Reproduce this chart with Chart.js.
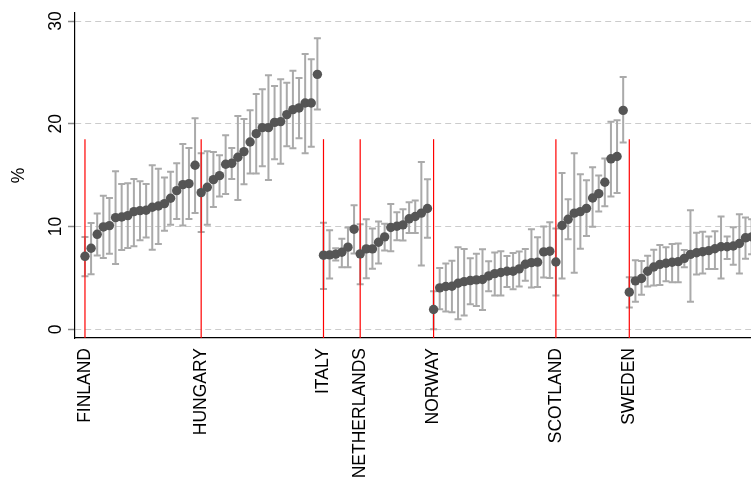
<!DOCTYPE html>
<html>
<head>
<meta charset="utf-8">
<script src="https://cdn.jsdelivr.net/npm/chart.js@4.4.1/dist/chart.umd.min.js"></script>
<style>
  html, body { margin: 0; padding: 0; background: #fff; }
  #wrap { width: 751px; height: 481px; position: relative; }
</style>
</head>
<body>
<div id="wrap"><canvas id="chart"></canvas></div>
<script>
// groups, in plotting order
const countries = ['FINLAND', 'HUNGARY', 'ITALY', 'NETHERLANDS', 'NORWAY', 'SCOTLAND', 'SWEDEN'];
const groupSizes = [19, 20, 6, 12, 20, 12, 21];

// point estimates (%)
const estimates = [
  // Finland
  7.10, 7.88, 9.24, 9.96, 10.09, 10.87, 10.93, 11.06, 11.45, 11.55, 11.58, 11.87, 12.0, 12.23, 12.75, 13.49, 14.08, 14.17, 15.96,
  // Hungary
  13.30, 13.82, 14.56, 14.95, 16.06, 16.15, 16.74, 17.29, 18.23, 19.04, 19.62, 19.62, 20.14, 20.21, 20.89, 21.38, 21.54, 22.02, 22.02, 24.81,
  // Italy
  7.21, 7.24, 7.31, 7.5, 7.99, 9.74,
  // Netherlands
  7.34, 7.82, 7.82, 8.47, 8.99, 9.9, 10.03, 10.16, 10.75, 10.97, 11.3, 11.75,
  // Norway
  1.92, 4.03, 4.16, 4.19, 4.48, 4.64, 4.74, 4.81, 4.84, 5.19, 5.42, 5.52, 5.65, 5.65, 5.88, 6.33, 6.49, 6.53, 7.53, 7.6,
  // Scotland
  6.55, 10.1, 10.7, 11.3, 11.45, 11.77, 12.78, 13.2, 14.31, 16.59, 16.81, 21.3,
  // Sweden
  3.61, 4.71, 4.94, 5.65, 6.06, 6.32, 6.42, 6.52, 6.58, 6.9, 7.29, 7.45, 7.55, 7.65, 7.84, 8.03, 8.03, 8.1, 8.35, 8.9, 9.0
];

// upper and lower ends of the intervals
const upper = [
  8.98, 10.35, 11.26, 13.0, 12.78, 15.37, 14.14, 14.21, 14.63, 14.4, 14.14, 15.96, 15.63, 14.76, 15.34, 16.15, 18.03, 17.65, 20.53,
  17.13, 17.32, 17.26, 16.93, 18.88, 17.65, 20.76, 20.47, 21.31, 22.9, 23.35, 24.72, 23.68, 24.33, 24.0, 25.17, 24.46, 26.79, 26.27, 28.32,
  10.36, 9.64, 7.89, 8.8, 9.9, 12.08,
  10.23, 10.71, 9.81, 10.49, 10.26, 12.18, 11.4, 11.69, 12.37, 12.53, 16.27, 14.61,
  3.7, 5.97, 6.4, 6.66, 7.99, 7.82, 6.92, 7.34, 7.79, 6.62, 7.47, 7.6, 7.14, 7.43, 7.56, 7.82, 9.74, 8.96, 10.0, 10.42,
  9.8, 15.2, 12.65, 17.12, 15.09, 14.5, 15.77, 14.96, 16.62, 20.2, 20.33, 24.55,
  5.06, 6.71, 6.65, 7.16, 7.74, 8.19, 7.97, 8.29, 8.35, 7.71, 11.58, 9.39, 9.48, 9.03, 9.55, 10.97, 9.03, 9.94, 11.19, 10.87, 10.7
];
const lower = [
  5.16, 5.35, 7.17, 6.94, 7.36, 6.36, 7.72, 7.91, 8.08, 8.66, 8.92, 7.75, 8.3, 9.6, 10.18, 10.74, 10.09, 10.74, 11.32,
  9.47, 10.18, 11.9, 12.91, 13.17, 14.63, 12.59, 14.11, 15.15, 15.15, 15.86, 14.53, 16.54, 16.12, 17.81, 17.61, 18.59, 17.13, 17.77, 21.38,
  3.93, 4.94, 6.69, 6.04, 6.04, 7.37,
  4.38, 4.97, 5.88, 6.4, 7.66, 7.6, 8.67, 8.64, 9.38, 9.38, 6.2, 8.9,
  0.0, 1.95, 1.72, 1.66, 0.97, 1.33, 2.44, 2.27, 1.88, 3.7, 3.28, 3.28, 4.12, 3.9, 4.16, 4.71, 4.06, 4.12, 5.03, 5.0,
  3.28, 4.95, 8.76, 5.5, 7.84, 9.07, 9.98, 11.45, 11.97, 12.91, 13.27, 18.18,
  2.13, 2.68, 3.35, 4.16, 4.26, 4.32, 4.68, 4.58, 4.58, 6.03, 2.68, 5.32, 5.42, 5.87, 5.87, 4.94, 6.84, 6.29, 5.42, 6.87, 7.3
];

const yTicks = [0, 10, 20, 30];
const lineTop = 18.5;

const FONT = '"Liberation Sans", Arial, Helvetica, sans-serif';

// index where each country starts
let starts = [];
let pos = 0;
groupSizes.forEach(n => { starts.push(pos); pos += n; });

const points = estimates.map((v, i) => ({ x: i, y: v }));

const yMin = -0.85, yMax = 30.78;

const redLines = starts.map(s => ({
    type: 'line',
    data: [{ x: s, y: yMin }, { x: s, y: lineTop }],
    borderColor: '#ff0000',
    borderWidth: 1.2,
    pointRadius: 0,
    order: 1
}));

// whiskers with caps, drawn under the markers
const errorBars = {
    id: 'errorBars',
    beforeDatasetsDraw(chart) {
        const { ctx, chartArea, scales: { x, y } } = chart;
        ctx.save();
        ctx.beginPath();
        ctx.rect(chartArea.left, chartArea.top, chartArea.width, chartArea.height);
        ctx.clip();
        ctx.strokeStyle = '#aaaaaa';
        ctx.lineWidth = 2;
        estimates.forEach((_, i) => {
            const px = x.getPixelForValue(i);
            const top = y.getPixelForValue(upper[i]);
            const bot = y.getPixelForValue(lower[i]);
            ctx.beginPath();
            ctx.moveTo(px, top); ctx.lineTo(px, bot);
            ctx.moveTo(px - 3.5, top); ctx.lineTo(px + 3.5, top);
            ctx.moveTo(px - 3.5, bot); ctx.lineTo(px + 3.5, bot);
            ctx.stroke();
        });
        ctx.restore();
    }
};

// vertical y tick labels like the original
const yLabels = {
    id: 'yLabels',
    afterDraw(chart) {
        const { ctx, scales: { y } } = chart;
        ctx.save();
        ctx.font = '17.5px ' + FONT;
        ctx.fillStyle = '#000';
        ctx.textAlign = 'center';
        ctx.textBaseline = 'middle';
        yTicks.forEach(v => {
            ctx.save();
            ctx.translate(56, y.getPixelForValue(v));
            ctx.rotate(-Math.PI / 2);
            ctx.fillText(String(v), 0, 0);
            ctx.restore();
        });
        ctx.restore();
    }
};

new Chart(document.getElementById('chart'), {
    type: 'scatter',
    data: {
        datasets: [{
            data: points,
            backgroundColor: '#555555',
            borderColor: '#555555',
            pointRadius: 4.7,
            pointHoverRadius: 4.7,
            borderWidth: 0,
            order: 0
        }, ...redLines]
    },
    options: {
        responsive: true,
        maintainAspectRatio: false,
        animation: false,
        events: [],
        layout: { autoPadding: false, padding: { top: 13, left: 0, right: 0, bottom: 0 } },
        plugins: {
            legend: { display: false },
            tooltip: { enabled: false }
        },
        scales: {
            x: {
                type: 'linear',
                min: -1.63,
                max: 108.9,
                afterBuildTicks: scale => { scale.ticks = starts.map(v => ({ value: v })); },
                afterFit: scale => { scale.height = 143; },
                grid: { display: false, drawTicks: false },
                border: { display: true, color: '#000', width: 1.2 },
                ticks: {
                    autoSkip: false,
                    minRotation: 90,
                    maxRotation: 90,
                    padding: 10,
                    color: '#000',
                    font: { family: FONT, size: 17.5 },
                    callback: value => countries[starts.indexOf(value)]
                }
            },
            y: {
                min: yMin,
                max: yMax,
                afterBuildTicks: scale => { scale.ticks = yTicks.map(v => ({ value: v })); },
                afterFit: scale => { scale.width = 75; },
                grid: {
                    color: '#cccccc',
                    lineWidth: 1,
                    drawTicks: true,
                    tickLength: 7,
                    tickColor: '#8a8a8a',
                    tickWidth: 1.5,
                    tickBorderDash: []
                },
                border: { display: true, color: '#000', width: 1.2, dash: [6, 4] },
                ticks: { display: false },
                title: {
                    display: true,
                    text: '%',
                    color: '#000',
                    font: { family: FONT, size: 17.5 },
                    padding: { top: 9, bottom: 0 }
                }
            }
        }
    },
    plugins: [errorBars, yLabels]
});
</script>
</body>
</html>
